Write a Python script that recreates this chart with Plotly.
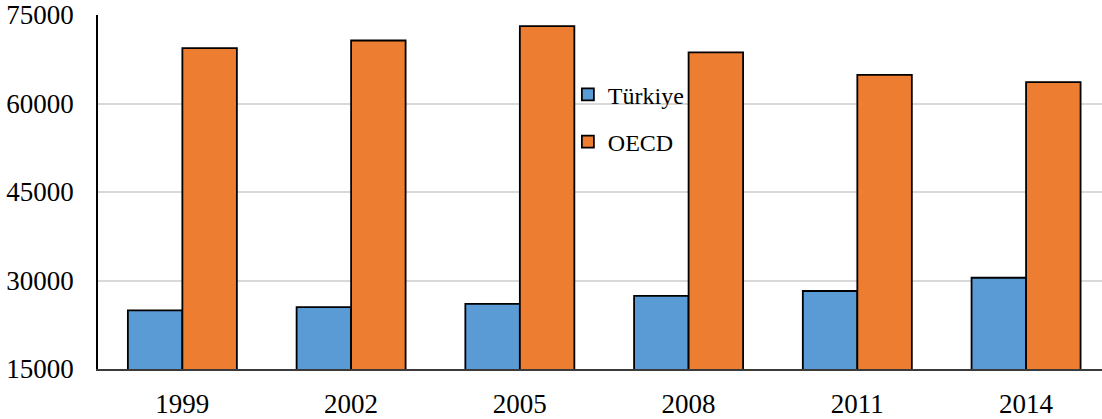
import plotly.graph_objects as go

# Survey years and series values
years = ["1999", "2002", "2005", "2008", "2011", "2014"]
turkiye = [24920, 25480, 26040, 27380, 28220, 30470]
oecd = [69380, 70680, 73130, 68660, 64840, 63610]
y_ticks = [15000, 30000, 45000, 60000, 75000]

FONT = "Liberation Serif"
BLUE = "#5B9BD5"
ORANGE = "#ED7D31"

fig = go.Figure()
fig.add_trace(go.Bar(
    x=years, y=turkiye, name="Türkiye", legendgroup="a",
    marker=dict(color=BLUE, line=dict(color="#000000", width=1.8)),
))
fig.add_trace(go.Bar(
    x=years, y=oecd, name="OECD", legendgroup="b",
    marker=dict(color=ORANGE, line=dict(color="#000000", width=1.8)),
))

fig.update_layout(
    width=1102, height=419,
    margin=dict(l=98, r=0, t=15, b=47),
    paper_bgcolor="white", plot_bgcolor="white",
    barmode="group", bargap=0.354, bargroupgap=0,
    font=dict(family=FONT, size=27, color="#000000"),
    showlegend=True,
    legend=dict(
        x=0.468, y=0.838, xanchor="left", yanchor="top",
        font=dict(family=FONT, size=24, color="#000000"),
        bgcolor="rgba(0,0,0,0)", traceorder="grouped", tracegroupgap=13,
    ),
    xaxis=dict(
        type="category", range=[-0.5, 5.45],
        showline=True, linecolor="#3a3a3a", linewidth=1.5,
        showgrid=False, ticks="", ticklabelstandoff=10,
        tickfont=dict(family=FONT, size=27),
    ),
    yaxis=dict(
        range=[15000, 75000], tickvals=y_ticks,
        ticktext=[str(v) for v in y_ticks],
        showline=True, linecolor="#000000", linewidth=1.8,
        showgrid=True, gridcolor="#d9d9d9", gridwidth=1.5,
        zeroline=False, ticks="", ticklabelstandoff=17,
        tickfont=dict(family=FONT, size=27),
    ),
)

fig.write_html("out.html")
